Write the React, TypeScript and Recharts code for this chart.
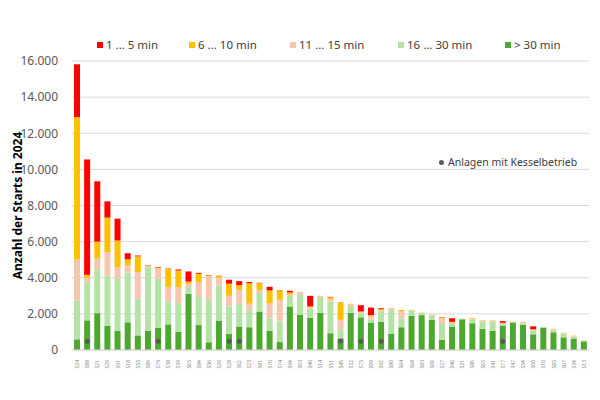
import React from 'react';
import {
  ComposedChart, Bar, Scatter, XAxis, YAxis, CartesianGrid, Label,
} from 'recharts';

const stations = [
  'S24', 'S88', 'S21', 'S29', 'S91', 'S18', 'S55', 'S89', 'S79', 'S38',
  'S39', 'S65', 'S84', 'S56', 'S20', 'S28', 'S62', 'S23', 'S81', 'S70',
  'S74', 'S94', 'S03', 'S40', 'S14', 'S51', 'S45', 'S32', 'S75', 'S99',
  'S92', 'S80', 'S64', 'S68', 'S83', 'S09', 'S27', 'S46', 'S31', 'S86',
  'S63', 'S41', 'S77', 'S47', 'S54', 'S00', 'S10', 'S85', 'S07', 'S34', 'S13',
];

// Starts nach Laufzeit
const over30 = [
  590, 1640, 2040, 1330, 1050, 1530, 810, 1070, 1230, 1420,
  1010, 3110, 1380, 430, 1630, 890, 1300, 1260, 2130, 1060,
  440, 2410, 1960, 1780, 2060, 930, 650, 2070, 1810, 1520,
  1560, 890, 1260, 1890, 1930, 1670, 560, 1300, 1700, 1480,
  1170, 1060, 1330, 1520, 1390, 870, 1240, 980, 700, 630, 480,
];
const min16to30 = [
  2150, 2120, 2430, 2800, 2910, 2740, 2030, 3480, 2730, 1270,
  1590, 370, 1600, 2380, 1930, 1520, 1260, 960, 1020, 700,
  1190, 590, 1100, 520, 870, 1760, 500, 370, 230, 180,
  590, 1330, 500, 300, 110, 220, 880, 140, 30, 190,
  420, 510, 110, 20, 90, 200, 30, 110, 190, 110, 40,
];
const min11to15 = [
  2270, 240, 590, 1270, 630, 440, 1470, 70, 560, 790,
  880, 180, 760, 1260, 440, 590, 770, 340, 180, 810,
  1150, 60, 90, 50, 50, 120, 520, 80, 50, 190,
  40, 40, 370, 30, 30, 50, 300, 80, 10, 50,
  40, 60, 40, 10, 60, 40, 10, 60, 40, 40, 10,
];
const min6to10 = [
  7880, 160, 940, 1930, 1470, 320, 880, 40, 40, 1010,
  920, 130, 480, 60, 90, 670, 260, 1140, 370, 730,
  530, 130, 20, 60, 20, 110, 960, 40, 40, 40,
  70, 20, 90, 10, 10, 20, 50, 40, 0, 40,
  20, 20, 30, 10, 20, 40, 0, 20, 20, 20, 10,
];
const min1to5 = [
  2930, 6390, 3340, 900, 1210, 330, 40, 20, 30, 20,
  60, 560, 50, 20, 20, 220, 220, 60, 20, 200,
  10, 90, 10, 590, 0, 20, 10, 0, 350, 420,
  50, 10, 0, 0, 0, 0, 20, 200, 0, 0,
  0, 0, 90, 0, 0, 160, 0, 0, 0, 0, 0,
];
// Anlagen mit Kesselbetrieb
const kesselStations = ['S88', 'S79', 'S28', 'S62', 'S45', 'S75', 'S92', 'S77'];
const yTicks = [0, 2000, 4000, 6000, 8000, 10000, 12000, 14000, 16000];

const series = [
  { key: 'r1', name: '1 ... 5 min', color: '#FF0000' },
  { key: 'r2', name: '6 ... 10 min', color: '#FFC000' },
  { key: 'r3', name: '11 ... 15 min', color: '#F6C7AE' },
  { key: 'r4', name: '16 ... 30 min', color: '#B4E3A5' },
  { key: 'r5', name: '> 30 min', color: '#4EA72E' },
];

const data = stations.map((s, i) => ({
  name: s,
  r5: over30[i],
  r4: min16to30[i],
  r3: min11to15[i],
  r2: min6to10[i],
  r1: min1to5[i],
  kessel: kesselStations.includes(s) ? 480 : null,
}));

const FONT = '"Noto Sans", "Open Sans", sans-serif';
const fmt = (v: number) => v.toLocaleString('de-DE');

function XTick(props: any) {
  const { x, y, payload } = props;
  return (
    <text
      x={x}
      y={y + 2}
      transform={`rotate(-90 ${x} ${y + 2})`}
      textAnchor="end"
      dominantBaseline="central"
      fontSize={5}
      fill="#7f7f7f"
      fontFamily={FONT}
    >
      {payload.value}
    </text>
  );
}

const legendPos = [97, 189, 290, 398, 505];

export default function App() {
  return (
    <div style={{ position: 'absolute', left: 0, top: 0, width: 600, height: 400, background: '#fff', fontFamily: FONT }}>
      {series.map((s, i) => (
        <div
          key={s.key}
          style={{
            position: 'absolute', left: legendPos[i], top: 37, display: 'flex',
            alignItems: 'center', fontSize: 11.5, color: '#404040', whiteSpace: 'nowrap',
          }}
        >
          <span style={{ width: 6, height: 6, background: s.color, marginRight: 3, display: 'inline-block' }} />
          {s.name}
        </div>
      ))}
      <div
        style={{
          position: 'absolute', left: 439, top: 155, display: 'flex', alignItems: 'center',
          fontSize: 10.5, color: '#404040', whiteSpace: 'nowrap',
        }}
      >
        <span style={{ width: 5, height: 5, borderRadius: 3, background: '#595959', marginRight: 4, display: 'inline-block' }} />
        Anlagen mit Kesselbetrieb
      </div>
      <ComposedChart
        width={600}
        height={400}
        data={data}
        margin={{ top: 61, right: 11, bottom: 30, left: 10 }}
        barSize={6}
      >
        <CartesianGrid vertical={false} stroke="#d9d9d9" />
        <XAxis
          dataKey="name"
          interval={0}
          tick={<XTick />}
          tickLine={false}
          axisLine={{ stroke: '#d9d9d9' }}
          height={20}
        />
        <YAxis
          domain={[0, 16000]}
          ticks={yTicks}
          tickFormatter={fmt}
          tickSize={0}
          tickMargin={14}
          axisLine={false}
          width={62}
          tick={{ fontSize: 12, fill: '#595959', fontFamily: FONT }}
        >
          <Label
            content={(p: any) => {
              const vb = p.viewBox || {};
              const cx = 17;
              const cy = (vb.y ?? 61) + (vb.height ?? 289) / 2;
              return (
                <text
                  x={cx}
                  y={cy}
                  transform={`rotate(-90 ${cx} ${cy})`}
                  textAnchor="middle"
                  dominantBaseline="central"
                  fontSize={12}
                  fontWeight="bold"
                  fill="#000"
                  fontFamily={FONT}
                >
                  Anzahl der Starts in 2024
                </text>
              );
            }}
          />
        </YAxis>
        {[...series].reverse().map(s => (
          <Bar key={s.key} dataKey={s.key} name={s.name} stackId="a" fill={s.color} isAnimationActive={false} />
        ))}
        <Scatter
          dataKey="kessel"
          fill="#595959"
          isAnimationActive={false}
          shape={(p: any) => (p.cx == null || p.cy == null ? <g /> : <circle cx={p.cx} cy={p.cy} r={2.5} fill="#595959" />)}
        />
      </ComposedChart>
    </div>
  );
}
